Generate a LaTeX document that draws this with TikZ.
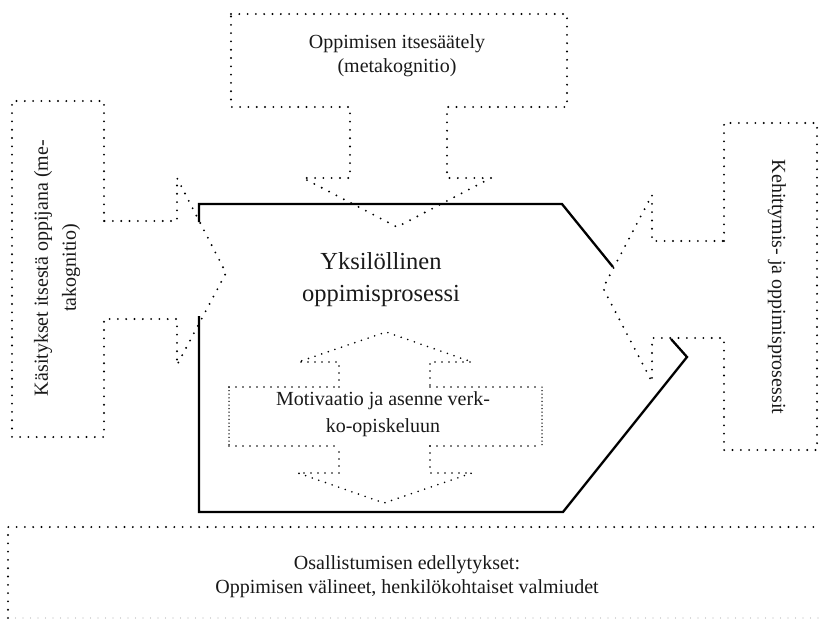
\documentclass[tikz,border=0pt]{standalone}
\usepackage{fontspec}
\setmainfont{Liberation Serif}
\begin{document}
\begin{tikzpicture}[x=1pt,y=-1pt,
  dotline/.style={line width=2.1pt, line cap=round, dash pattern=on 0pt off 8.3pt},
  finedot/.style={line width=1.8pt, line cap=round, dash pattern=on 0pt off 7pt},
  sidedot/.style={line width=1.5pt, line cap=round, dash pattern=on 0pt off 3.6pt},
  faintdot/.style={line width=1.2pt, line cap=round, dash pattern=on 0pt off 7.5pt, black!30},
  solidline/.style={line width=2.3pt, line join=miter, line cap=butt},
  label/.style={align=center, text=black!90, inner sep=0pt},
  normaltext/.style={label, font=\fontsize{20}{24}\selectfont},
  titletext/.style={label, font=\fontsize{24.5}{32}\selectfont},
]
\useasboundingbox (0,0) rectangle (820,619);

% top arrow: self-regulation, pointing down into the process
\draw[dotline] (231,14) -- (567,14) -- (567,107) -- (447,107) -- (447,178)
  -- (491,178) -- (397,227) -- (303,178) -- (350,178) -- (350,107)
  -- (231,107) -- cycle;

% left arrow: conceptions of oneself as a learner, pointing right
\draw[dotline] (104,221) -- (104,101) -- (12,101) -- (12,437) -- (104,437)
  -- (104,319) -- (177,319) -- (177,365) -- (226,273) -- (177,178)
  -- (177,221) -- cycle;

% right arrow: development and learning processes, pointing left
\draw[dotline] (724,241) -- (724,123) -- (817,123) -- (817,450) -- (724,450)
  -- (724,338) -- (652,338) -- (652,382) -- (603,288) -- (652,195)
  -- (652,241) -- cycle;

% outline of the individual learning process
\draw[solidline] (613,267) -- (562,204) -- (199,204) -- (199,222);
\draw[solidline] (199,316) -- (199,512) -- (563,512) -- (687,357) -- (671,339);

% double-headed arrow: motivation and attitude
\draw[finedot] (339,387) -- (339,362) -- (298,362) -- (386,332) -- (472,362)
  -- (430,362) -- (430,387);
\draw[finedot] (430,446) -- (430,473) -- (472,473) -- (384,503) -- (298,473)
  -- (339,473) -- (339,446);
\draw[finedot] (229,387) -- (339,387);
\draw[finedot] (430,387) -- (542,387);
\draw[finedot] (229,446) -- (339,446);
\draw[finedot] (430,446) -- (542,446);
\draw[sidedot] (229,387) -- (229,446);
\draw[sidedot] (542,387) -- (542,446);

% bottom band: prerequisites for participation
\draw[dotline] (830,527) -- (8,527) -- (8,618);
\draw[faintdot] (8,618) -- (830,618);

% labels
\node[normaltext] (selfreg) at (397,56) {Oppimisen itsesäätely\\(metakognitio)};
\node[titletext] (process) at (381,280) {Yksilöllinen\\oppimisprosessi};
\node[normaltext, font=\fontsize{20}{27}\selectfont] (motiv) at (383,414) {Motivaatio ja asenne verk-\\ko-opiskeluun};
\node[normaltext, font=\fontsize{20}{28}\selectfont, rotate=90] (concept) at (57,268) {Käsitykset itsestä oppijana (me-\\takognitio)};
\node[normaltext, rotate=-90] (devel) at (777,287) {Kehittymis- ja oppimisprosessit};
\node[normaltext] (prereq) at (407,577) {Osallistumisen edellytykset:\\Oppimisen välineet, henkilökohtaiset valmiudet};
\end{tikzpicture}
\end{document}
